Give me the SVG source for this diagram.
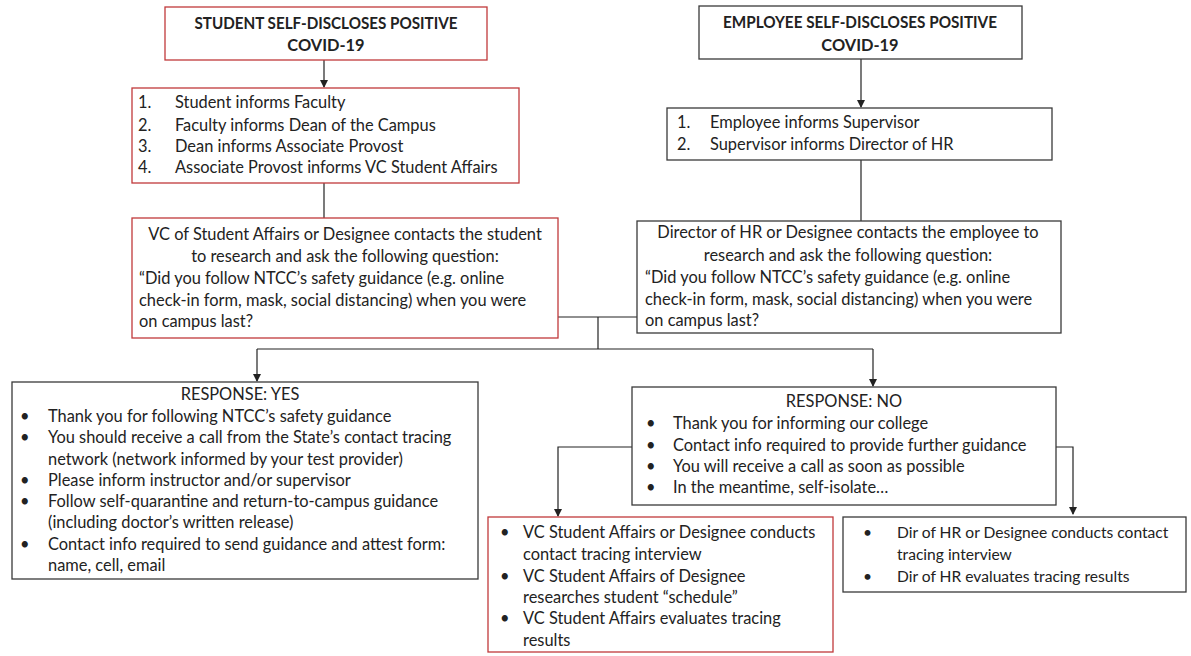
<svg xmlns="http://www.w3.org/2000/svg" width="1191" height="656" viewBox="0 0 1191 656">
<style>
.box{fill:#fff;stroke-width:1.3}
.red{stroke:#c0393b}
.blk{stroke:#3a3a3a}
text{font-family:Lato,"Liberation Sans",sans-serif;font-size:16.4px;fill:#222}
.hd{font-weight:bold;text-anchor:middle}
.c{text-anchor:middle}
.sm{font-size:15.6px}
.ln{stroke:#222;stroke-width:1.2;fill:none}
.ah{fill:#222}
</style>
<rect width="1191" height="656" fill="#fff"/>

<g id="connectors">
<path class="ln" d="M324,60 V87"/>
<path class="ah" d="M320,80 L328,80 L324,88 Z"/>
<path class="ln" d="M324,183 V218"/>
<path class="ln" d="M861,59 V107"/>
<path class="ah" d="M857,100 L865,100 L861,108 Z"/>
<path class="ln" d="M861,160 V221"/>
<path class="ln" d="M558,317 H637"/>
<path class="ln" d="M598,317 V349"/>
<path class="ln" d="M257,349 H873"/>
<path class="ln" d="M257,349 V381"/>
<path class="ah" d="M253,374 L261,374 L257,382 Z"/>
<path class="ln" d="M873,349 V386"/>
<path class="ah" d="M869,379 L877,379 L873,387 Z"/>
<path class="ln" d="M632,447 H558 V516"/>
<path class="ah" d="M554,509 L562,509 L558,517 Z"/>
<path class="ln" d="M1056,447 H1073 V514"/>
<path class="ah" d="M1069,507 L1077,507 L1073,515 Z"/>
</g>

<g id="student-header">
<rect class="box red" x="165" y="7" width="322" height="53"/>
<text class="hd" x="326" y="29" textLength="263" lengthAdjust="spacingAndGlyphs">STUDENT SELF-DISCLOSES POSITIVE</text>
<text class="hd" x="326" y="51">COVID-19</text>
</g>

<g id="student-steps">
<rect class="box red" x="132" y="88" width="387" height="95"/>
<text x="138" y="108">1.</text><text x="175" y="108">Student informs Faculty</text>
<text x="138" y="131">2.</text><text x="175" y="131">Faculty informs Dean of the Campus</text>
<text x="138" y="152">3.</text><text x="175" y="152">Dean informs Associate Provost</text>
<text x="138" y="173">4.</text><text x="175" y="173">Associate Provost informs VC Student Affairs</text>
</g>

<g id="student-question">
<rect class="box red" x="132" y="218" width="426" height="120"/>
<text class="c" x="345" y="240">VC of Student Affairs or Designee contacts the student</text>
<text class="c" x="345" y="262">to research and ask the following question:</text>
<text x="139" y="284">“Did you follow NTCC’s safety guidance (e.g. online</text>
<text x="139" y="306">check-in form, mask, social distancing) when you were</text>
<text x="139" y="327">on campus last?</text>
</g>

<g id="employee-header">
<rect class="box blk" x="699" y="6" width="323" height="53"/>
<text class="hd" x="860" y="28" textLength="274" lengthAdjust="spacingAndGlyphs">EMPLOYEE SELF-DISCLOSES POSITIVE</text>
<text class="hd" x="860" y="51">COVID-19</text>
</g>

<g id="employee-steps">
<rect class="box blk" x="667" y="108" width="385" height="52"/>
<text x="677" y="128">1.</text><text x="710" y="128">Employee informs Supervisor</text>
<text x="677" y="150">2.</text><text x="710" y="150">Supervisor informs Director of HR</text>
</g>

<g id="employee-question">
<rect class="box blk" x="637" y="221" width="424" height="112"/>
<text class="c" x="848" y="238">Director of HR or Designee contacts the employee to</text>
<text class="c" x="848" y="261">research and ask the following question:</text>
<text x="645" y="283">“Did you follow NTCC’s safety guidance (e.g. online</text>
<text x="645" y="305">check-in form, mask, social distancing) when you were</text>
<text x="645" y="326">on campus last?</text>
</g>

<g id="response-yes">
<rect class="box blk" x="12" y="382" width="466" height="197"/>
<text class="c" x="240" y="400">RESPONSE: YES</text>
<text x="20" y="422">•</text><text x="48" y="422">Thank you for following NTCC’s safety guidance</text>
<text x="20" y="443">•</text><text x="48" y="443">You should receive a call from the State’s contact tracing</text>
<text x="48" y="465">network (network informed by your test provider)</text>
<text x="20" y="486">•</text><text x="48" y="486">Please inform instructor and/or supervisor</text>
<text x="20" y="507">•</text><text x="48" y="507">Follow self-quarantine and return-to-campus guidance</text>
<text x="48" y="528">(including doctor’s written release)</text>
<text x="20" y="550">•</text><text x="48" y="550">Contact info required to send guidance and attest form:</text>
<text x="48" y="571">name, cell, email</text>
</g>

<g id="response-no">
<rect class="box blk" x="632" y="387" width="424" height="118"/>
<text class="c" x="844" y="407">RESPONSE: NO</text>
<text x="646" y="429">•</text><text x="673" y="429">Thank you for informing our college</text>
<text x="646" y="451">•</text><text x="673" y="451">Contact info required to provide further guidance</text>
<text x="646" y="472">•</text><text x="673" y="472">You will receive a call as soon as possible</text>
<text x="646" y="493">•</text><text x="673" y="493">In the meantime, self-isolate…</text>
</g>

<g id="student-tracing">
<rect class="box red" x="488" y="517" width="345" height="135"/>
<text x="500" y="538">•</text><text x="523" y="538">VC Student Affairs or Designee conducts</text>
<text x="523" y="560">contact tracing interview</text>
<text x="500" y="582">•</text><text x="523" y="582">VC Student Affairs of Designee</text>
<text x="523" y="603">researches student “schedule”</text>
<text x="500" y="624">•</text><text x="523" y="624">VC Student Affairs evaluates tracing</text>
<text x="523" y="646">results</text>
</g>

<g id="employee-tracing">
<rect class="box blk" x="843" y="517" width="343" height="75"/>
<text class="sm" x="863" y="538">•</text><text class="sm" x="897" y="538">Dir of HR or Designee conducts contact</text>
<text class="sm" x="897" y="560">tracing interview</text>
<text class="sm" x="863" y="582">•</text><text class="sm" x="897" y="582">Dir of HR evaluates tracing results</text>
</g>
</svg>
